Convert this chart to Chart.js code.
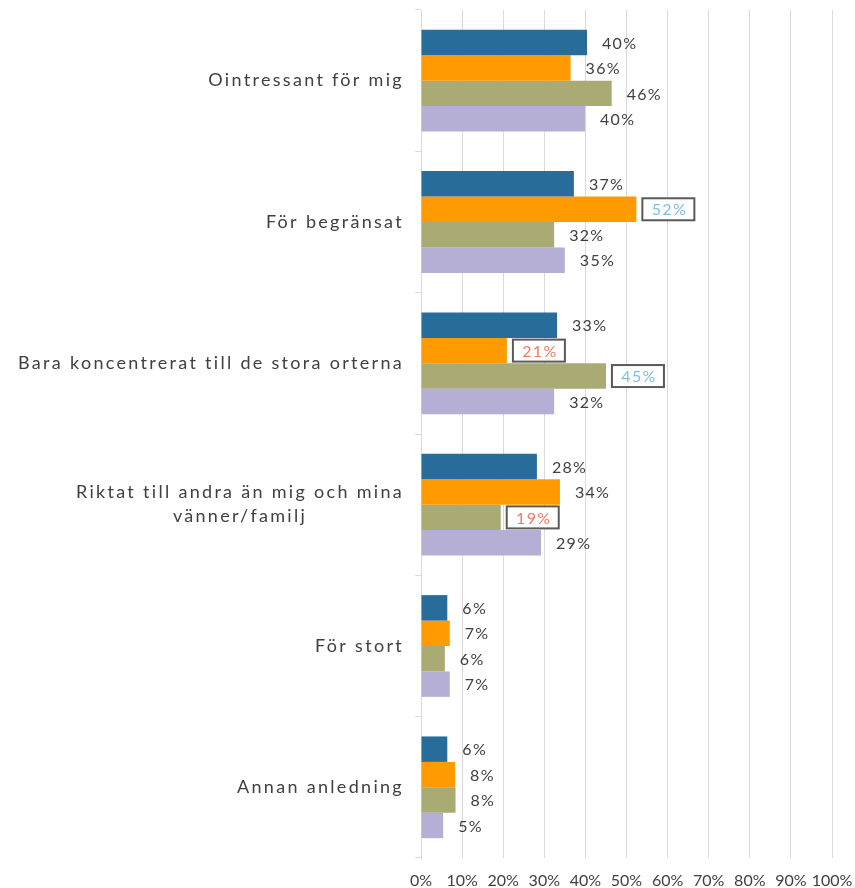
<!DOCTYPE html>
<html>
<head>
<meta charset="utf-8">
<script src="https://cdn.jsdelivr.net/npm/chart.js@4/dist/chart.umd.min.js"></script>
<style>
  html, body { margin: 0; padding: 0; background: #fff; }
  #wrap { width: 855px; height: 888px; }
</style>
</head>
<body>
<div id="wrap"><canvas id="chart"></canvas></div>
<script>
// categories (top to bottom)
var categories = [
  ["Ointressant för mig"],
  ["För begränsat"],
  ["Bara koncentrerat till de stora orterna"],
  ["Riktat till andra än mig och mina", "vänner/familj"],
  ["För stort"],
  ["Annan anledning"]
];

// series values (percent)
var series1 = [40.4, 37.2, 33.1, 28.2, 6.4, 6.4];
var series2 = [36.4, 52.4, 20.9, 33.8, 7.0, 8.3];
var series3 = [46.4, 32.4, 45.0, 19.4, 5.8, 8.4];
var series4 = [39.9, 35.0, 32.4, 29.2, 7.0, 5.4];

// boxed labels: 1 = significantly higher, -1 = significantly lower
var flags1 = [0, 0, 0, 0, 0, 0];
var flags2 = [0, 1, -1, 0, 0, 0];
var flags3 = [0, 0, 1, -1, 0, 0];
var flags4 = [0, 0, 0, 0, 0, 0];

var xTicks = [0, 10, 20, 30, 40, 50, 60, 70, 80, 90, 100];

var colors = ["#276C9A", "#FF9A00", "#A9AA74", "#B5AFD5"];
var flags = [flags1, flags2, flags3, flags4];
var textColor = "#404040";
var fontFamily = "Lato, 'Open Sans', sans-serif";

var yLabelsPlugin = {
  id: 'yLabels',
  afterDraw: function(chart) {
    var ctx = chart.ctx;
    var y = chart.scales.y;
    ctx.save();
    ctx.font = "18px " + fontFamily;
    ctx.letterSpacing = "2.3px";
    ctx.fillStyle = textColor;
    ctx.textAlign = "center";
    ctx.textBaseline = "middle";
    var right = 404;
    categories.forEach(function(lines, i) {
      var cy = y.getPixelForValue(i);
      var maxW = 0;
      lines.forEach(function(l) { maxW = Math.max(maxW, ctx.measureText(l).width); });
      var cx = right - maxW / 2;
      var lh = 24;
      var top = cy - (lines.length - 1) * lh / 2;
      lines.forEach(function(l, k) { ctx.fillText(l, cx, top + k * lh); });
    });
    ctx.restore();
  }
};

var valueLabelsPlugin = {
  id: 'valueLabels',
  afterDatasetsDraw: function(chart) {
    var ctx = chart.ctx;
    ctx.save();
    ctx.font = "16px " + fontFamily;
    ctx.letterSpacing = "1.3px";
    ctx.textBaseline = "middle";
    chart.data.datasets.forEach(function(ds, d) {
      var meta = chart.getDatasetMeta(d);
      meta.data.forEach(function(bar, i) {
        var txt = Math.round(ds.data[i]) + "%";
        var f = flags[d][i];
        if (f === 0) {
          ctx.fillStyle = textColor;
          ctx.textAlign = "left";
          ctx.fillText(txt, bar.x + 15, bar.y + 1);
        } else {
          var bx = bar.x + 6, bw = 52, bh = 22;
          ctx.lineWidth = 2;
          ctx.strokeStyle = "#5a5a5a";
          ctx.fillStyle = "#fff";
          ctx.fillRect(bx, bar.y - bh / 2, bw, bh);
          ctx.strokeRect(bx, bar.y - bh / 2, bw, bh);
          ctx.fillStyle = f > 0 ? "#7DBDE6" : "#EE7A63";
          ctx.textAlign = "center";
          ctx.fillText(txt, bx + bw / 2 + 1, bar.y + 1);
        }
      });
    });
    ctx.restore();
  }
};

new Chart(document.getElementById("chart"), {
  type: 'bar',
  data: {
    labels: categories.map(function(c) { return c.join(" "); }),
    datasets: [
      { label: "1", data: series1, backgroundColor: colors[0] },
      { label: "2", data: series2, backgroundColor: colors[1] },
      { label: "3", data: series3, backgroundColor: colors[2] },
      { label: "4", data: series4, backgroundColor: colors[3] }
    ]
  },
  options: {
    indexAxis: 'y',
    responsive: true,
    maintainAspectRatio: false,
    animation: false,
    datasets: {
      bar: { categoryPercentage: 0.72, barPercentage: 1.0 }
    },
    layout: { padding: { top: 10, right: 0, bottom: 0, left: 0 } },
    plugins: {
      legend: { display: false },
      tooltip: { enabled: false }
    },
    scales: {
      y: {
        afterFit: function(scale) { scale.width = 421; },
        ticks: { display: false },
        grid: { offset: true, drawOnChartArea: false, tickLength: 6, color: "#d9d9d9" },
        border: { display: true, color: "#d9d9d9" }
      },
      x: {
        min: 0,
        max: 100,
        afterBuildTicks: function(scale) {
          scale.ticks = xTicks.map(function(v) { return { value: v }; });
        },
        afterFit: function(scale) {
          scale.height = 30;
          scale.paddingLeft = 0;
          scale.paddingRight = 23;
        },
        ticks: {
          callback: function(v) { return v + "%"; },
          color: textColor,
          font: { family: fontFamily, size: 16 },
          padding: 13,
          maxRotation: 0,
          autoSkip: false
        },
        grid: { color: "#d9d9d9", drawTicks: false },
        border: { display: false }
      }
    }
  },
  plugins: [yLabelsPlugin, valueLabelsPlugin]
});
</script>
</body>
</html>
